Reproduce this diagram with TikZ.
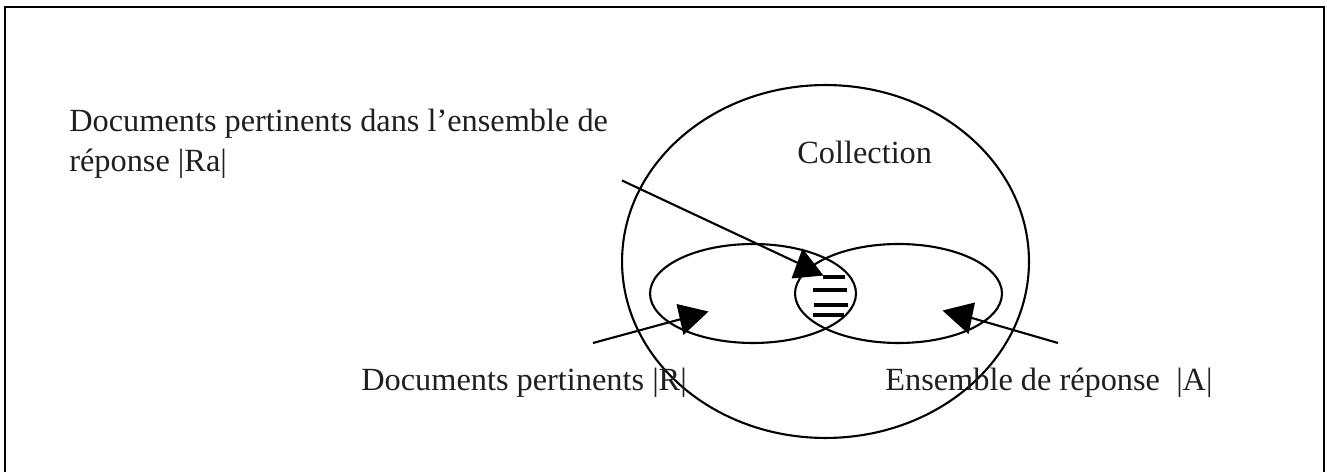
\documentclass[tikz,border=0pt]{standalone}
\usepackage{fontspec}
\setmainfont{Liberation Serif}
\usetikzlibrary{shapes.geometric}
\begin{document}
\begin{tikzpicture}[x=0.02cm,y=-0.02cm,
  lbl/.style={inner sep=0pt,anchor=base west,font=\fontsize{18.4}{22.1}\selectfont,text=black!88},
  curve/.style={draw,line width=1.2pt,shape=ellipse,inner sep=0pt,outer sep=0pt},
  conn/.style={line width=1.2pt},
  head/.style={fill=black},
  hatch/.style={line width=2.3pt}]
\useasboundingbox (0,0) rectangle (1327,472);
% frame
\draw[line width=1.1pt] (5,472) -- (5,7) -- (1324,7) -- (1324,472);
% sets
\node[curve,minimum width=8.14cm,minimum height=7.06cm] (coll) at (825.5,261.5) {};
\node[curve,minimum width=4.12cm,minimum height=1.98cm] (R) at (753,293.5) {};
\node[curve,minimum width=4.14cm,minimum height=1.98cm] (A) at (898.5,293.5) {};
% hatching of the intersection
\draw[hatch] (823,277) -- (845,277);
\draw[hatch] (813,290) -- (847,290);
\draw[hatch] (814,305) -- (848,305);
\draw[hatch] (813,315) -- (844,315);
% labels
\node[lbl] (l1a) at (69,132) {Documents pertinents dans l’ensemble de};
\node[lbl] (l1b) at (69,172) {réponse |Ra|};
\node[lbl] (lc) at (797,164) {Collection};
\node[lbl] (lr) at (361,391) {Documents pertinents |R|};
\node[lbl] (la) at (885,390) {Ensemble de réponse \ |A|};
% connector ends
\coordinate (s1) at (622,180.5);
\coordinate (e1) at (815,271);
\coordinate (s2) at (593,343);
\coordinate (e2) at (685,318);
\coordinate (s3) at (1058,343);
\coordinate (e3) at (965,316);
% connectors
\draw[conn] (s1) -- (e1);
\fill[head] (802.5,248.5) -- (791.5,278.5) -- (823.5,275.5) -- cycle;
\draw[conn] (s2) -- (e2);
\fill[head] (708.5,311.5) -- (676.5,304) -- (683.5,335) -- cycle;
\draw[conn] (s3) -- (e3);
\fill[head] (942.5,310.5) -- (975,302.5) -- (968.5,334) -- cycle;
\end{tikzpicture}
\end{document}
